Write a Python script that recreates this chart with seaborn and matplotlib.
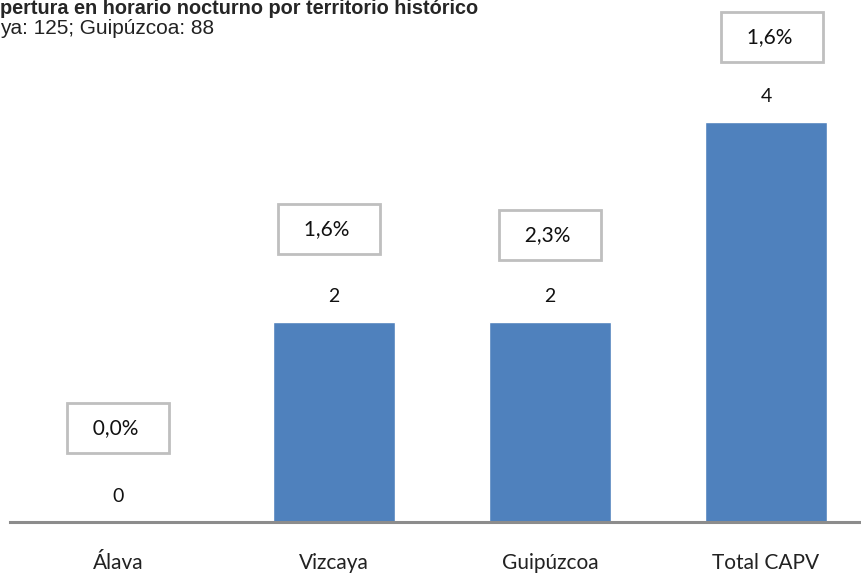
import numpy as np
import pandas as pd
import matplotlib
matplotlib.use("Agg")
import matplotlib.pyplot as plt
import seaborn as sns

# data
territorios = ["Álava", "Vizcaya", "Guipúzcoa", "Total CAPV"]
n_centros   = [0, 2, 2, 4]
porcentaje  = ["0,0%", "1,6%", "2,3%", "1,6%"]

# small per-label nudges of the percentage boxes (pixels)
box_dx = [0, -5, 0, 6]
box_dy = [69, 68, 62, 60]

BLUE = "#4F81BD"

sns.set_theme(style="white")
plt.rcParams["font.family"] = ["Lato", "DejaVu Sans"]

df = pd.DataFrame({"territorio": territorios, "n": n_centros})

fig = plt.figure(figsize=(8.62, 5.77), dpi=100)
ax = fig.add_axes([10 / 862, 55 / 577, 1 - 10 / 862, 522 / 577])

sns.barplot(data=df, x="territorio", y="n", color=BLUE, width=0.565,
            saturation=1, ax=ax)

ax.set_xlim(-0.5, 3.5 - 12 / 216)
ax.set_ylim(0, 5.22)
ax.set_xlabel("")
ax.set_ylabel("")
ax.set_yticks([])
for s in ["top", "right", "left"]:
    ax.spines[s].set_visible(False)
ax.spines["bottom"].set_color("#8C8C8C")
ax.spines["bottom"].set_linewidth(2.2)
ax.tick_params(axis="x", length=0, pad=22, labelsize=15, labelcolor="#222222")

for i, (v, p) in enumerate(zip(n_centros, porcentaje)):
    ax.annotate(str(v), (i, v), xytext=(0, 25 * 0.72), textcoords="offset points",
                ha="center", va="center", fontsize=14, color="#111111")
    ax.annotate("  " + p + "   ", (i, v),
                xytext=(box_dx[i] * 0.72, (25 + box_dy[i]) * 0.72),
                textcoords="offset points", ha="center", va="center",
                fontsize=15, color="#111111",
                bbox=dict(boxstyle="square,pad=0.7", fc="white",
                          ec="#BFBFBF", lw=2))

fig.text(0.0, 1 - 8 / 577, "pertura en horario nocturno por territorio histórico",
         fontsize=14.3, fontweight="bold", family=["Liberation Sans"],
         ha="left", va="center")
fig.text(0.0, 1 - 28 / 577, "ya: 125; Guipúzcoa: 88", fontsize=15,
         family=["Liberation Sans"], ha="left", va="center", color="#222222")

fig.savefig("out.png", dpi=100)
